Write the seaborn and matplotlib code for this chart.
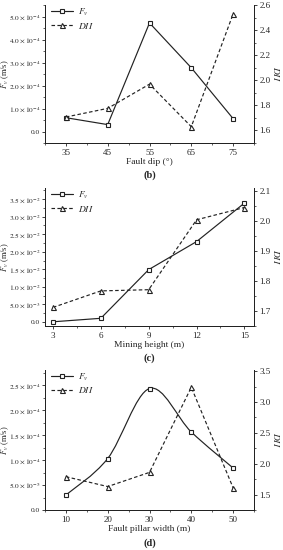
import numpy as np
import pandas as pd
import matplotlib
matplotlib.use("Agg")
import matplotlib.pyplot as plt
import seaborn as sns
from matplotlib.path import Path
from matplotlib.patches import PathPatch
from matplotlib.lines import Line2D
from matplotlib.ticker import MultipleLocator, FuncFormatter

# (b) fault dip
dip = [35, 45, 55, 65, 75]
fv_dip = [0.60e-4, 0.30e-4, 4.72e-4, 2.77e-4, 0.56e-4]
dii_dip = [1.707, 1.776, 1.969, 1.630, 2.528]

# (c) mining height
height = [3, 6, 9, 12, 15]
fv_height = [0.0, 0.10e-2, 1.49e-2, 2.29e-2, 3.39e-2]
dii_height = [1.712, 1.767, 1.771, 2.004, 2.045]

# (d) fault pillar width
width = [10, 20, 30, 40, 50]
fv_width = [0.30e-4, 1.03e-4, 2.43e-4, 1.56e-4, 0.84e-4]
dii_width = [1.79, 1.63, 1.86, 3.24, 1.61]

sns.set_style("ticks")
plt.rcParams['font.family'] = ['Liberation Serif', 'DejaVu Serif']
plt.rcParams['mathtext.fontset'] = 'stix'
plt.rcParams['font.size'] = 6.5

INK = '#222222'
FS = 6.5


def sci(v, pos):
    if abs(v) < 1e-12:
        return '0.0'
    e = int(np.floor(np.log10(abs(v)) + 1e-9))
    m = v / 10 ** e
    return r'$%.1f\times10^{%d}$' % (m, e)


def smooth_curve(ax, xs, ys, **kw):
    # Catmull-Rom spline drawn as cubic Bezier segments
    p = np.column_stack([xs, ys]).astype(float)
    ext = np.vstack([p[0], p, p[-1]])
    verts = [p[0]]
    codes = [Path.MOVETO]
    for i in range(len(p) - 1):
        p0, p1, p2, p3 = ext[i], ext[i + 1], ext[i + 2], ext[i + 3]
        verts += [p1 + (p2 - p0) / 6, p2 - (p3 - p1) / 6, p2]
        codes += [Path.CURVE4] * 3
    ax.add_patch(PathPatch(Path(verts, codes), fill=False, **kw))


def style_axes(ax, ax2):
    for a in (ax, ax2):
        a.spines['top'].set_visible(False)
        a.tick_params(which='major', direction='out', length=2.5, width=0.6,
                      pad=1.5, labelsize=FS, color=INK)
        a.tick_params(which='minor', direction='out', length=1.4, width=0.5, color=INK)
        for s in a.spines.values():
            s.set_linewidth(0.7)
            s.set_color(INK)
    ax2.spines['right'].set_visible(True)
    ax.tick_params(axis='y', labelsize=5.3, pad=1.0)
    ax.yaxis.set_major_formatter(FuncFormatter(sci))


def panel(ax, x, fv, dii, xlim, ylim, ylim2, xmaj, ymaj, y2maj, xlabel, tag, smooth=False):
    ax2 = ax.twinx()
    lw = 0.85
    ms = 3.2
    df = pd.DataFrame({'x': x, 'fv': fv, 'dii': dii})
    if smooth:
        smooth_curve(ax, x, fv, color=INK, lw=lw)
        sns.lineplot(data=df, x='x', y='fv', ax=ax, color=INK, lw=0, marker='s',
                     markersize=ms, markerfacecolor='white', markeredgecolor=INK,
                     markeredgewidth=0.8, zorder=5)
    else:
        sns.lineplot(data=df, x='x', y='fv', ax=ax, color=INK, lw=lw, marker='s',
                     markersize=ms, markerfacecolor='white', markeredgecolor=INK,
                     markeredgewidth=0.8)
    sns.lineplot(data=df, x='x', y='dii', ax=ax2, color=INK, lw=lw, ls=(0, (3, 2)),
                 marker='^', markersize=ms + 0.4, markerfacecolor='white',
                 markeredgecolor=INK, markeredgewidth=0.8)
    ax.set_xlim(*xlim)
    ax.set_ylim(*ylim)
    ax2.set_ylim(*ylim2)
    ax.set_xticks(x)
    ax.xaxis.set_minor_locator(MultipleLocator(xmaj / 2))
    ax.yaxis.set_major_locator(MultipleLocator(ymaj))
    ax.yaxis.set_minor_locator(MultipleLocator(ymaj / 2))
    ax2.yaxis.set_major_locator(MultipleLocator(y2maj))
    ax2.yaxis.set_minor_locator(MultipleLocator(y2maj / 2))
    style_axes(ax, ax2)
    ax.set_xlabel(xlabel, fontsize=FS + 0.3, labelpad=1)
    ax.set_ylabel(r'$F_v$ (m/s)', fontsize=6.0, ha='center', va='center')
    ax.yaxis.set_label_coords(-0.19, 0.5)
    ax2.set_ylabel(r'$DII$', fontsize=FS + 0.3, rotation=270, ha='center', va='center')
    ax2.yaxis.set_label_coords(1.105, 0.5)
    handles = [
        Line2D([], [], color=INK, lw=lw, marker='s', markersize=ms,
               markerfacecolor='white', markeredgecolor=INK, markeredgewidth=0.8),
        Line2D([], [], color=INK, lw=lw, ls=(0, (3, 2)), marker='^', markersize=ms + 0.4,
               markerfacecolor='white', markeredgecolor=INK, markeredgewidth=0.8),
    ]
    ax.legend(handles, [r'$F_v$', r'$DII$'], loc='upper left', frameon=False,
              fontsize=FS + 0.3, handlelength=2.4, handletextpad=0.5, labelspacing=0.3,
              borderaxespad=0.2, bbox_to_anchor=(0.0, 1.03))
    ax.text(0.5, -0.2, tag, transform=ax.transAxes, ha='center', va='top',
            fontsize=7.5, fontweight='bold')


fig = plt.figure(figsize=(2.83, 5.5), dpi=100)
W, H = 283, 550
left, right = 45, 254


def make_axes(top, bottom):
    return fig.add_axes([left / W, 1 - bottom / H, (right - left) / W, (bottom - top) / H])


ax_b = make_axes(5, 143)
ax_c = make_axes(188, 326)
ax_d = make_axes(370, 510)

panel(ax_b, dip, fv_dip, dii_dip, (30, 80), (-0.5e-4, 5.5e-4), (1.5, 2.6),
      10, 1e-4, 0.2, 'Fault dip (°)', '(b)')
panel(ax_c, height, fv_height, dii_height, (2.5, 15.6), (-0.12e-2, 3.82e-2), (1.65, 2.11),
      3, 0.5e-2, 0.1, 'Mining height (m)', '(c)')
panel(ax_d, width, fv_width, dii_width, (5, 55), (0, 2.8e-4), (1.25, 3.52),
      10, 0.5e-4, 0.5, 'Fault pillar width (m)', '(d)', smooth=True)

fig.savefig('out.png', dpi=100)
